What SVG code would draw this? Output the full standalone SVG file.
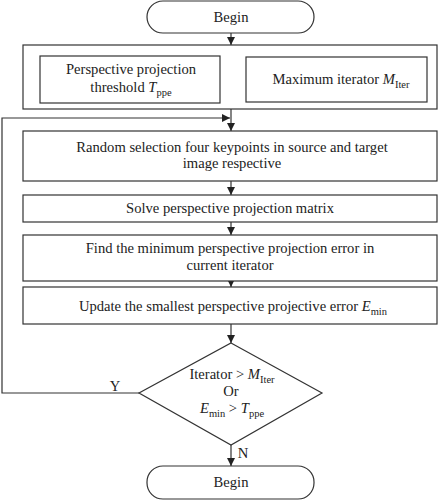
<svg xmlns="http://www.w3.org/2000/svg" width="438" height="500" viewBox="0 0 438 500">
<style>
.b{fill:#fff;stroke:#333;stroke-width:1.2}
.c{fill:none;stroke:#333;stroke-width:1.2}
text{font-family:"Liberation Serif","Times New Roman",serif;font-size:14.6px;fill:#222;text-anchor:middle}
.i{font-style:italic}
.s{font-size:10.5px}
</style>
<defs>
<marker id="a" markerWidth="8" markerHeight="8" refX="8" refY="4" orient="auto" markerUnits="userSpaceOnUse">
<path d="M0,0 L8,4 L0,8 Z" fill="#222"/>
</marker>
</defs>
<rect width="438" height="500" fill="#fff"/>
<g id="connectors">
<line class="c" x1="231" y1="33" x2="231" y2="45" marker-end="url(#a)"/>
<line class="c" x1="231" y1="109" x2="231" y2="131" marker-end="url(#a)"/>
<polyline class="c" points="139,393 2,393 2,118 230,118" marker-end="url(#a)"/>
<line class="c" x1="231" y1="181" x2="231" y2="195" marker-end="url(#a)"/>
<line class="c" x1="231" y1="222" x2="231" y2="235" marker-end="url(#a)"/>
<line class="c" x1="231" y1="281" x2="231" y2="287" marker-end="url(#a)"/>
<line class="c" x1="231" y1="324" x2="231" y2="343" marker-end="url(#a)"/>
<line class="c" x1="231" y1="445" x2="231" y2="466" marker-end="url(#a)"/>
<text x="115" y="391">Y</text>
<text x="243" y="458">N</text>
</g>
<g id="begin">
<rect class="b" x="147" y="1" width="167" height="32" rx="16"/>
<text x="231" y="22">Begin</text>
</g>
<g id="params">
<rect class="b" x="23" y="45" width="414" height="64"/>
</g>
<g id="threshold">
<rect class="b" x="40" y="56" width="180" height="47"/>
<text x="131" y="74">Perspective projection</text>
<text x="131" y="92">threshold <tspan class="i">T</tspan><tspan class="s" dy="4">ppe</tspan></text>
</g>
<g id="maxiter">
<rect class="b" x="246" y="57" width="181" height="45"/>
<text x="341" y="84">Maximum iterator <tspan class="i">M</tspan><tspan class="s" dy="4">Iter</tspan></text>
</g>
<g id="random">
<rect class="b" x="23" y="131" width="414" height="50"/>
<text x="232" y="152">Random selection four keypoints in source and target</text>
<text x="232" y="168">image respective</text>
</g>
<g id="solve">
<rect class="b" x="23" y="195" width="414" height="27"/>
<text x="230" y="213">Solve perspective projection matrix</text>
</g>
<g id="find">
<rect class="b" x="23" y="235" width="414" height="46"/>
<text x="230" y="253">Find the minimum perspective projection error in</text>
<text x="230" y="270">current iterator</text>
</g>
<g id="update">
<rect class="b" x="23" y="287" width="414" height="37"/>
<text x="233" y="311">Update the smallest perspective projective error <tspan class="i">E</tspan><tspan class="s" dy="4">min</tspan></text>
</g>
<g id="decision">
<polygon class="b" points="231,343 322,393 231,445 139,393"/>
<text x="232" y="379">Iterator &gt; <tspan class="i">M</tspan><tspan class="s" dy="4">Iter</tspan></text>
<text x="231" y="396">Or</text>
<text x="232" y="413"><tspan class="i">E</tspan><tspan class="s" dy="4">min</tspan><tspan dy="-4"> &gt; </tspan><tspan class="i">T</tspan><tspan class="s" dy="4">ppe</tspan></text>
</g>
<g id="end">
<rect class="b" x="147" y="466" width="167" height="33" rx="16"/>
<text x="231" y="487">Begin</text>
</g>
</svg>
